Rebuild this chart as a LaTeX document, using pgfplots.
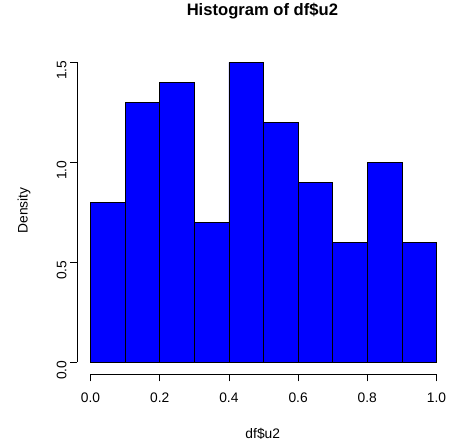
\documentclass[border=0pt]{standalone}
\usepackage{fontspec}
\setmainfont{Liberation Sans}
\usepackage{pgfplots}
\pgfplotsset{compat=1.18}
\begin{document}
\begin{tikzpicture}
\begin{axis}[
  scale only axis,
  width=373pt, height=324pt,
  xmin=-0.039, xmax=1.039,
  ymin=-0.06, ymax=1.56,
  clip=false,
  axis lines*=left,
  axis line style={draw=none},
  tick align=outside,
  major tick length=7pt,
  tick style={black, line width=0.6pt},
  xtick={0,0.2,0.4,0.6,0.8,1.0},
  ytick={0,0.5,1.0,1.5},
  /pgf/number format/assume math mode=true,
  /pgf/number format/.cd, fixed, fixed zerofill, precision=1, /pgfplots/.cd,
  xticklabel style={font=\fontsize{13.8}{16}\selectfont, yshift=-8pt},
  yticklabel style={font=\fontsize{13.8}{16}\selectfont, rotate=90, anchor=south, xshift=-8pt},
  title={Histogram of df\$u2},
  title style={font=\fontsize{16.6}{19}\selectfont\bfseries, at={(axis description cs:0.497,1.102)}, anchor=center},
  xlabel={df\$u2},
  xlabel style={font=\fontsize{13.8}{16}\selectfont, at={(axis description cs:0.498,-0.185)}, anchor=center},
  ylabel={Density},
  ylabel style={font=\fontsize{13.8}{16}\selectfont, at={(axis description cs:-0.142,0.506)}, anchor=center, rotate=0},
]
\path (axis cs:-0.2616,-0.425) rectangle (axis cs:1.039,1.81);
\addplot[ybar interval, fill=blue, draw=black, line width=0.7pt] coordinates {
  (0.0,0.8) (0.1,1.3) (0.2,1.4) (0.3,0.7) (0.4,1.5)
  (0.5,1.2) (0.6,0.9) (0.7,0.6) (0.8,1.0) (0.9,0.6) (1.0,0.6)
};
\draw[black, line width=0.6pt] (axis cs:0,-0.06) -- (axis cs:1,-0.06);
\draw[black, line width=0.6pt] (axis cs:-0.039,0) -- (axis cs:-0.039,1.5);
\end{axis}
\end{tikzpicture}
\end{document}
